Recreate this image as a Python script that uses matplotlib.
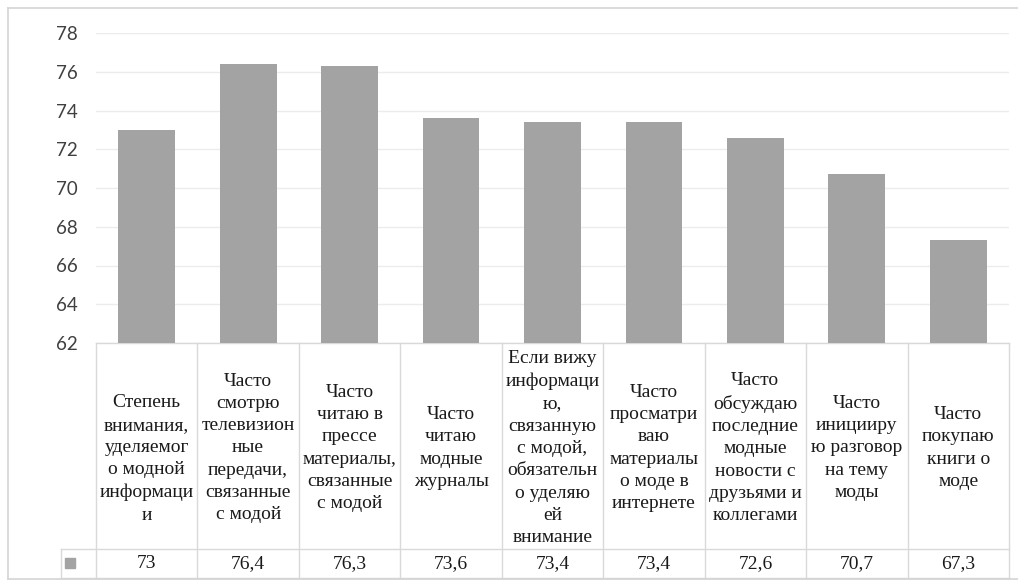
import numpy as np
import matplotlib.pyplot as plt
import matplotlib.transforms as mtransforms
from matplotlib.lines import Line2D

# %% DATA
categories = [
    "Степень\nвнимания,\nуделяемог\nо модной\nинформаци\nи",
    "Часто\nсмотрю\nтелевизион\nные\nпередачи,\nсвязанные\nс модой",
    "Часто\nчитаю в\nпрессе\nматериалы,\nсвязанные\nс модой",
    "Часто\nчитаю\nмодные\nжурналы",
    "Если вижу\nинформаци\nю,\nсвязанную\nс модой,\nобязательн\nо уделяю\nей\nвнимание",
    "Часто\nпросматри\nваю\nматериалы\nо моде в\nинтернете",
    "Часто\nобсуждаю\nпоследние\nмодные\nновости с\nдрузьями и\nколлегами",
    "Часто\nиницииру\nю разговор\nна тему\nмоды",
    "Часто\nпокупаю\nкниги о\nмоде",
]
values = [73, 76.4, 76.3, 73.6, 73.4, 73.4, 72.6, 70.7, 67.3]
y_ticks = [62, 64, 66, 68, 70, 72, 74, 76, 78]

# %% FIGURE
W, H = 1018, 581
fig = plt.figure(figsize=(W / 100, H / 100), dpi=100)
fig.patch.set_facecolor("white")

# plot area in pixels
left, right, top, bottom = 96, 1009, 33, 343
ax = fig.add_axes([left / W, 1 - bottom / H, (right - left) / W, (bottom - top) / H])

x = np.arange(len(values))
ax.bar(x, values, width=0.56, color="#a3a3a3", zorder=3)
ax.set_xlim(-0.5, len(values) - 0.5)
ax.set_ylim(y_ticks[0], y_ticks[-1])
ax.set_yticks(y_ticks)
ax.set_xticks([])
ax.yaxis.grid(True, color="#ececec", linewidth=1)
ax.tick_params(axis="y", length=0, pad=13, labelsize=13.5, labelcolor="#404040")
for lab in ax.get_yticklabels():
    lab.set_fontfamily("Lato")
for s in ax.spines.values():
    s.set_visible(False)

# %% DATA TABLE UNDER THE AXIS
ph = bottom - top
def ay(py):
    return -(py - bottom) / ph

row_top, row_mid, row_bot = ay(343), ay(549), ay(578)
key_left = (61 - left) / (right - left)
grid_col = "#d9d9d9"
blend = mtransforms.blended_transform_factory(ax.transData, ax.transAxes)

def hline(x0, x1, y, tr):
    ax.add_line(Line2D([x0, x1], [y, y], transform=tr, color=grid_col, lw=1, clip_on=False))

def vline(xv, y0, y1, tr):
    ax.add_line(Line2D([xv, xv], [y0, y1], transform=tr, color=grid_col, lw=1, clip_on=False))

hline(0, 1, row_top, ax.transAxes)
hline(key_left, 1, row_mid, ax.transAxes)
hline(key_left, 1, row_bot, ax.transAxes)
vline(key_left, row_mid, row_bot, ax.transAxes)
for b in np.arange(len(values) + 1) - 0.5:
    vline(b, row_top, row_bot, blend)

serif = "Liberation Serif"
for xi, cat, v in zip(x, categories, values):
    cy = 459 if xi == 0 else 448
    ax.text(xi, ay(cy), cat, transform=blend, ha="center", va="center",
            family=serif, fontsize=14, linespacing=1.41, color="#1a1a1a")
    ax.text(xi, ay(563.5), f"{v:g}".replace(".", ","), transform=blend,
            ha="center", va="center", family=serif, fontsize=14, color="#1a1a1a")

# legend key in the value row
ax.plot([(70 - left) / (right - left)], [ay(563)], marker="s", markersize=6.5,
        color="#a3a3a3", transform=ax.transAxes, clip_on=False)

# %% CHART BORDER
fig.add_artist(Line2D([8 / W, 1], [1 - 8 / H, 1 - 8 / H], color="#d4d4d4", lw=1.2))
fig.add_artist(Line2D([8 / W, 8 / W], [1 - 8 / H, 1 - 579 / H], color="#d4d4d4", lw=1.2))
fig.add_artist(Line2D([8 / W, 1], [1 - 579 / H, 1 - 579 / H], color="#d4d4d4", lw=1.2))

fig.savefig("out.png", dpi=100)
